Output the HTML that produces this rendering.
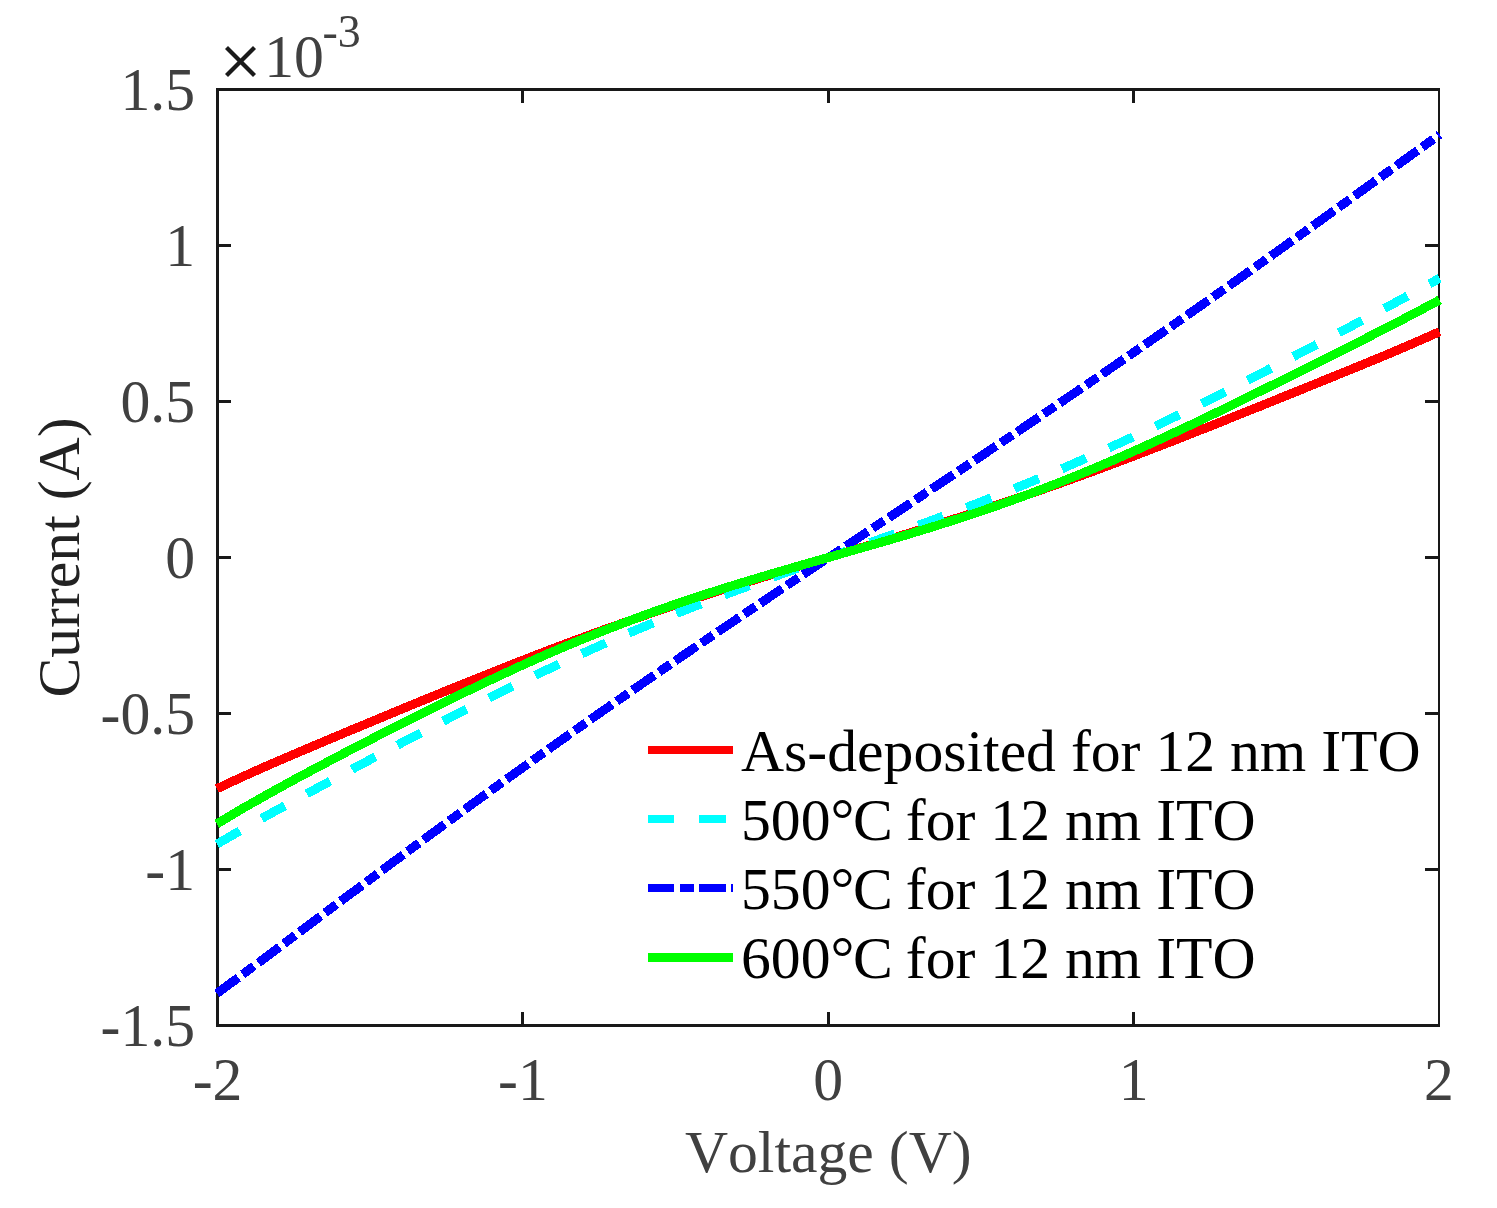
<!DOCTYPE html>
<html><head><meta charset="utf-8"><title>I-V curves</title>
<style>
html,body{margin:0;padding:0;background:#fff;}
body{width:1497px;height:1208px;overflow:hidden;}
svg{display:block;will-change:transform;}
text{font-family:"Liberation Serif",serif;font-size:59.7px;font-kerning:none;}
.tl{fill:#404040;}
.tk{font-size:59.7px;}
.lg{fill:#000;}
.crv{fill:none;stroke-width:9;stroke-linecap:butt;stroke-linejoin:round;}
</style></head><body>
<svg width="1497" height="1208" viewBox="0 0 1497 1208">
<rect x="0" y="0" width="1497" height="1208" fill="#fff"/>

<g shape-rendering="crispEdges" fill="#181818">
<rect x="216" y="88" width="3" height="939"/>
<rect x="1438" y="88" width="2" height="939"/>
<rect x="216" y="88" width="1224" height="3"/>
<rect x="216" y="1024" width="1224" height="3"/>
<rect x="521" y="1012" width="3" height="12"/>
<rect x="521" y="91" width="3" height="12"/>
<rect x="827" y="1012" width="3" height="12"/>
<rect x="827" y="91" width="3" height="12"/>
<rect x="1132" y="1012" width="3" height="12"/>
<rect x="1132" y="91" width="3" height="12"/>
<rect x="219" y="868" width="12" height="3"/>
<rect x="1425" y="868" width="13" height="3"/>
<rect x="219" y="712" width="12" height="3"/>
<rect x="1425" y="712" width="13" height="3"/>
<rect x="219" y="556" width="12" height="3"/>
<rect x="1425" y="556" width="13" height="3"/>
<rect x="219" y="400" width="12" height="3"/>
<rect x="1425" y="400" width="13" height="3"/>
<rect x="219" y="244" width="12" height="3"/>
<rect x="1425" y="244" width="13" height="3"/>
</g>
<g shape-rendering="crispEdges">
<path class="crv" stroke="#ff0000" d="M216.9 788.7 L242.9 776.6 L268.4 765.2 L293.8 754.3 L319.3 743.5 L344.7 732.8 L370.2 722.2 L395.6 711.6 L421.1 701.1 L446.5 690.7 L472.0 680.4 L497.4 670.2 L522.9 660.2 L548.3 650.4 L573.8 640.8 L599.2 631.4 L624.7 622.4 L650.1 613.5 L675.6 605.0 L701.0 596.6 L726.5 588.5 L751.9 580.6 L777.4 572.8 L802.8 565.1 L828.2 557.5 L853.7 549.9 L879.1 542.2 L904.6 534.5 L930.0 526.6 L955.5 518.6 L980.9 510.3 L1006.4 501.9 L1031.8 493.2 L1057.3 484.3 L1082.7 475.1 L1108.2 465.7 L1133.6 456.1 L1159.1 446.3 L1184.5 436.4 L1210.0 426.3 L1235.4 416.1 L1260.9 405.9 L1286.3 395.6 L1311.8 385.3 L1337.2 375.0 L1362.7 364.6 L1388.1 354.1 L1413.6 343.2 L1439.6 331.7"/>
<path class="crv" stroke="#00ffff" stroke-dasharray="26.5 24.96" d="M216.9 844.1 L242.9 829.1 L268.4 814.8 L293.8 800.8 L319.3 787.0 L344.7 773.2 L370.2 759.6 L395.6 746.1 L421.1 732.7 L446.5 719.5 L472.0 706.5 L497.4 693.7 L522.9 681.2 L548.3 669.1 L573.8 657.3 L599.2 645.9 L624.7 634.8 L650.1 624.2 L675.6 613.8 L701.0 603.9 L726.5 594.2 L751.9 584.7 L777.4 575.5 L802.8 566.4 L828.2 557.4 L853.7 548.4 L879.1 539.4 L904.6 530.3 L930.0 521.1 L955.5 511.6 L980.9 501.9 L1006.4 491.9 L1031.8 481.5 L1057.3 470.8 L1082.7 459.7 L1108.2 448.3 L1133.6 436.6 L1159.1 424.5 L1184.5 412.1 L1210.0 399.5 L1235.4 386.6 L1260.9 373.5 L1286.3 360.3 L1311.8 347.0 L1337.2 333.6 L1362.7 320.1 L1388.1 306.5 L1413.6 292.7 L1439.6 278.2"/>
<path class="crv" stroke="#0000ff" stroke-dasharray="26.5 5.5 14 5.46" d="M216.9 993.4 L242.9 974.2 L268.4 955.3 L293.8 936.3 L319.3 917.2 L344.7 898.2 L370.2 879.2 L395.6 860.3 L421.1 841.5 L446.5 822.8 L472.0 804.2 L497.4 785.8 L522.9 767.5 L548.3 749.3 L573.8 731.3 L599.2 713.4 L624.7 695.7 L650.1 678.1 L675.6 660.6 L701.0 643.3 L726.5 626.0 L751.9 608.9 L777.4 591.8 L802.8 574.8 L828.2 557.8 L853.7 540.9 L879.1 524.0 L904.6 507.1 L930.0 490.1 L955.5 473.2 L980.9 456.2 L1006.4 439.1 L1031.8 422.0 L1057.3 404.7 L1082.7 387.4 L1108.2 370.0 L1133.6 352.5 L1159.1 334.8 L1184.5 317.1 L1210.0 299.2 L1235.4 281.2 L1260.9 263.1 L1286.3 244.9 L1311.8 226.7 L1337.2 208.4 L1362.7 190.0 L1388.1 171.7 L1413.6 153.3 L1439.6 134.6"/>
<path class="crv" stroke="#00ff00" d="M216.9 823.9 L242.9 808.3 L268.4 793.9 L293.8 779.9 L319.3 766.3 L344.7 752.9 L370.2 739.7 L395.6 726.7 L421.1 713.8 L446.5 701.2 L472.0 688.8 L497.4 676.7 L522.9 664.9 L548.3 653.6 L573.8 642.8 L599.2 632.4 L624.7 622.5 L650.1 613.1 L675.6 604.1 L701.0 595.6 L726.5 587.5 L751.9 579.7 L777.4 572.1 L802.8 564.8 L828.2 557.5 L853.7 550.2 L879.1 542.9 L904.6 535.4 L930.0 527.7 L955.5 519.6 L980.9 511.2 L1006.4 502.4 L1031.8 493.1 L1057.3 483.3 L1082.7 473.1 L1108.2 462.4 L1133.6 451.3 L1159.1 439.7 L1184.5 427.9 L1210.0 415.7 L1235.4 403.3 L1260.9 390.8 L1286.3 378.2 L1311.8 365.5 L1337.2 352.8 L1362.7 340.0 L1388.1 327.0 L1413.6 313.8 L1439.6 299.9"/>
</g>
<text class="tl tk" transform="translate(217.5 1100) scale(1 1.03)" text-anchor="middle">-2</text>
<text class="tl tk" transform="translate(522.9 1100) scale(1 1.03)" text-anchor="middle">-1</text>
<text class="tl tk" transform="translate(828.2 1100) scale(1 1.03)" text-anchor="middle">0</text>
<text class="tl tk" transform="translate(1133.6 1100) scale(1 1.03)" text-anchor="middle">1</text>
<text class="tl tk" transform="translate(1439.0 1100) scale(1 1.03)" text-anchor="middle">2</text>
<text class="tl tk" transform="translate(195 110.4) scale(1 1.03)" text-anchor="end">1.5</text>
<text class="tl tk" transform="translate(195 266.4) scale(1 1.03)" text-anchor="end">1</text>
<text class="tl tk" transform="translate(195 422.4) scale(1 1.03)" text-anchor="end">0.5</text>
<text class="tl tk" transform="translate(195 578.4) scale(1 1.03)" text-anchor="end">0</text>
<text class="tl tk" transform="translate(195 734.4) scale(1 1.03)" text-anchor="end">-0.5</text>
<text class="tl tk" transform="translate(195 890.4) scale(1 1.03)" text-anchor="end">-1</text>
<text class="tl tk" transform="translate(195 1046.4) scale(1 1.03)" text-anchor="end">-1.5</text>
<g stroke="#1a1a1a" stroke-width="4.2" stroke-linecap="butt"><line x1="226.5" y1="47.5" x2="254.5" y2="75.5"/><line x1="254.5" y1="47.5" x2="226.5" y2="75.5"/></g>
<text class="tl" transform="translate(264.2 76.9) scale(1 1.03)">10</text>
<text class="tl" transform="translate(322.5 47.2) scale(1 1.03)" style="font-size:46px">-3</text>
<text class="tl" x="828.3" y="1172" text-anchor="middle">Voltage (V)</text>
<text x="0" y="0" fill="#222" text-anchor="middle" transform="translate(79 557.5) rotate(-90)">Current (A)</text>
<g shape-rendering="crispEdges">
<rect x="648" y="746" width="85" height="8" fill="#ff0000"/>
<rect x="648" y="815" width="26" height="8" fill="#00ffff"/><rect x="699" y="815" width="27" height="8" fill="#00ffff"/>
<rect x="648" y="884" width="26" height="8" fill="#0000ff"/><rect x="680" y="884" width="14" height="8" fill="#0000ff"/><rect x="699" y="884" width="27" height="8" fill="#0000ff"/><rect x="731" y="884" width="2" height="8" fill="#0000ff"/>
<rect x="648" y="953" width="85" height="9" fill="#00ff00"/>
</g>
<text class="lg" x="741" y="770.7">As-deposited for 12 nm ITO</text>
<text class="lg" x="741" y="839.7">500°<tspan dx="-1.3">C</tspan><tspan dx="-2"> for 12 nm ITO</tspan></text>
<text class="lg" x="741" y="908.7">550°<tspan dx="-1.3">C</tspan><tspan dx="-2"> for 12 nm ITO</tspan></text>
<text class="lg" x="741" y="977.7">600°<tspan dx="-1.3">C</tspan><tspan dx="-2"> for 12 nm ITO</tspan></text>
</svg></body></html>
